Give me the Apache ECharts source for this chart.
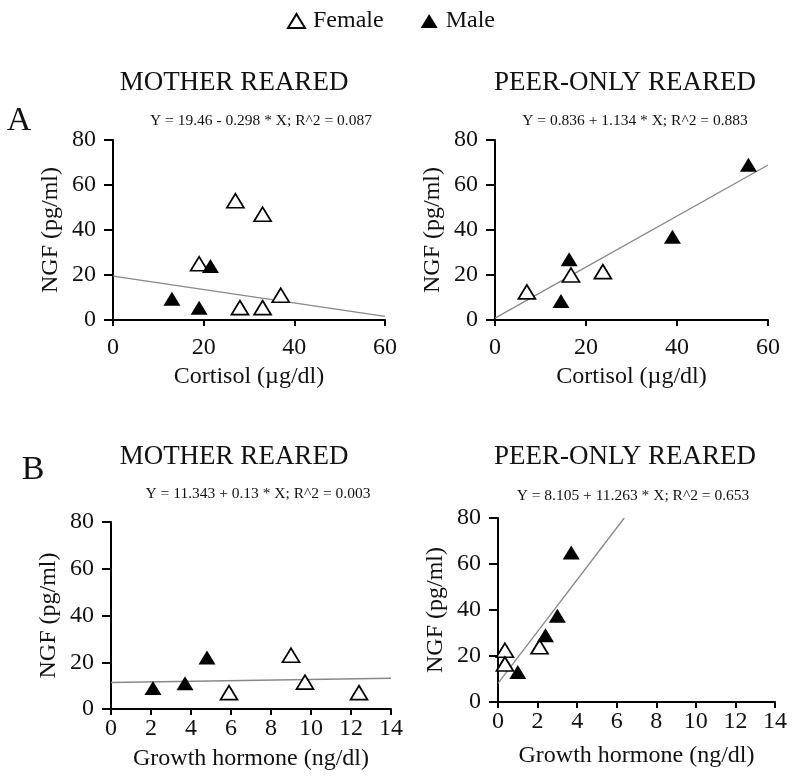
<!DOCTYPE html>
<html>
<head>
<meta charset="utf-8">
<script src="https://cdn.jsdelivr.net/npm/echarts@6/dist/echarts.min.js"></script>
<style>
html, body { margin: 0; padding: 0; background: #fff; }
#chart { width: 800px; height: 779px; }
</style>
</head>
<body>
<div id="chart"></div>
<script>
// data: [x, y]
var femaleA1 = [[27, 53], [33, 47], [19, 25], [28, 5.5], [33, 5.5], [37, 11]];
var maleA1 = [[21.5, 24], [13, 9.5], [19, 5.5]];
var fitA1 = [[0, 19.46], [60, 1.58]];

var femaleA2 = [[7, 12.5], [16.7, 20], [23.7, 21.5]];
var maleA2 = [[16.3, 27], [14.5, 8.5], [39, 37], [55.7, 69]];
var fitA2 = [[0, 0.84], [60, 68.9]];

var femaleB1 = [[5.9, 7], [9, 23], [9.7, 11.5], [12.4, 7]];
var maleB1 = [[2.1, 9], [3.7, 11], [4.8, 22]];
var fitB1 = [[0, 11.34], [14, 13.16]];

var femaleB2 = [[0.35, 22.5], [0.35, 16.5], [2.1, 24]];
var maleB2 = [[1.0, 13], [2.4, 29], [3.0, 37.5], [3.7, 65]];
var fitB2 = [[0, 8.1], [6.38, 80]];

var titles = ['MOTHER REARED', 'PEER-ONLY REARED'];
var equations = [
	'Y = 19.46 - 0.298 * X; R^2 = 0.087',
	'Y = 0.836 + 1.134 * X; R^2 = 0.883',
	'Y = 11.343 + 0.13 * X; R^2 = 0.003',
	'Y = 8.105 + 11.263 * X; R^2 = 0.653'
];

var FONT = 'Liberation Serif';

function xAxis(idx, max, interval, name, gap, margin) {
	return {
		type: 'value', gridIndex: idx, min: 0, max: max, interval: interval,
		name: name, nameLocation: 'middle', nameGap: gap,
		nameTextStyle: { fontFamily: FONT, fontSize: 24, color: '#111' },
		axisLine: { onZero: false, lineStyle: { color: '#000', width: 2 } },
		axisTick: { length: 6, lineStyle: { color: '#000', width: 2 } },
		axisLabel: { fontFamily: FONT, fontSize: 24, color: '#111', margin: margin },
		splitLine: { show: false }
	};
}
function yAxis(idx) {
	return {
		type: 'value', gridIndex: idx, min: 0, max: 80, interval: 20,
		name: 'NGF (pg/ml)', nameLocation: 'middle', nameGap: 50,
		nameTextStyle: { fontFamily: FONT, fontSize: 24, color: '#111' },
		axisLine: { onZero: false, lineStyle: { color: '#000', width: 2 } },
		axisTick: { length: 9, lineStyle: { color: '#000', width: 2 } },
		axisLabel: { fontFamily: FONT, fontSize: 24, color: '#111', margin: 17 },
		splitLine: { show: false }
	};
}
function scatter(name, idx, data) {
	var fem = name == 'Female';
	return {
		name: name, type: 'scatter', xAxisIndex: idx, yAxisIndex: idx,
		symbol: 'triangle', symbolSize: [17, 14], data: data, z: 3,
		itemStyle: fem ? { color: '#fff', borderColor: '#000', borderWidth: 1.7, opacity: 1 } : { color: '#000', opacity: 1 }
	};
}
function fit(idx, data) {
	return {
		type: 'line', xAxisIndex: idx, yAxisIndex: idx, data: data,
		showSymbol: false, silent: true, z: 2,
		lineStyle: { color: '#888', width: 1.3 }
	};
}
function text(s, x, y, size) {
	return {
		type: 'text', x: x, y: y,
		style: { text: s, fontFamily: FONT, fontSize: size, fill: '#111', align: 'center', verticalAlign: 'middle' }
	};
}

var option = {
	backgroundColor: '#fff',
	animation: false,
	legend: {
		top: 4, left: 282, itemGap: 37, itemWidth: 17, itemHeight: 14,
		data: ['Female', 'Male'],
		textStyle: { fontFamily: FONT, fontSize: 24, color: '#111', padding: [0, 0, 0, 3] }
	},
	grid: [
		{ left: 113, top: 140, width: 272, height: 180 },
		{ left: 495, top: 140, width: 273, height: 180 },
		{ left: 111, top: 522, width: 280, height: 187 },
		{ left: 498, top: 518, width: 277, height: 184 }
	],
	xAxis: [
		xAxis(0, 60, 20, 'Cortisol (\u00b5g/dl)', 45, 16),
		xAxis(1, 60, 20, 'Cortisol (\u00b5g/dl)', 45, 16),
		xAxis(2, 14, 2, 'Growth hormone (ng/dl)', 38, 8),
		xAxis(3, 14, 2, 'Growth hormone (ng/dl)', 42, 8)
	],
	yAxis: [yAxis(0), yAxis(1), yAxis(2), yAxis(3)],
	series: [
		fit(0, fitA1), scatter('Female', 0, femaleA1), scatter('Male', 0, maleA1),
		fit(1, fitA2), scatter('Female', 1, femaleA2), scatter('Male', 1, maleA2),
		fit(2, fitB1), scatter('Female', 2, femaleB1), scatter('Male', 2, maleB1),
		fit(3, fitB2), scatter('Female', 3, femaleB2), scatter('Male', 3, maleB2)
	],
	graphic: [
		text('A', 19, 121, 34),
		text('B', 33, 470, 34),
		text(titles[0], 234, 83, 27),
		text(titles[1], 625, 83, 27),
		text(equations[0], 261, 121, 15.5),
		text(equations[1], 635, 121, 15.5),
		text(titles[0], 234, 457, 27),
		text(titles[1], 625, 457, 27),
		text(equations[2], 258, 494, 15.5),
		text(equations[3], 633, 496, 15.5)
	]
};

var myChart = echarts.init(document.getElementById('chart'));
myChart.setOption(option);
</script>
</body>
</html>
